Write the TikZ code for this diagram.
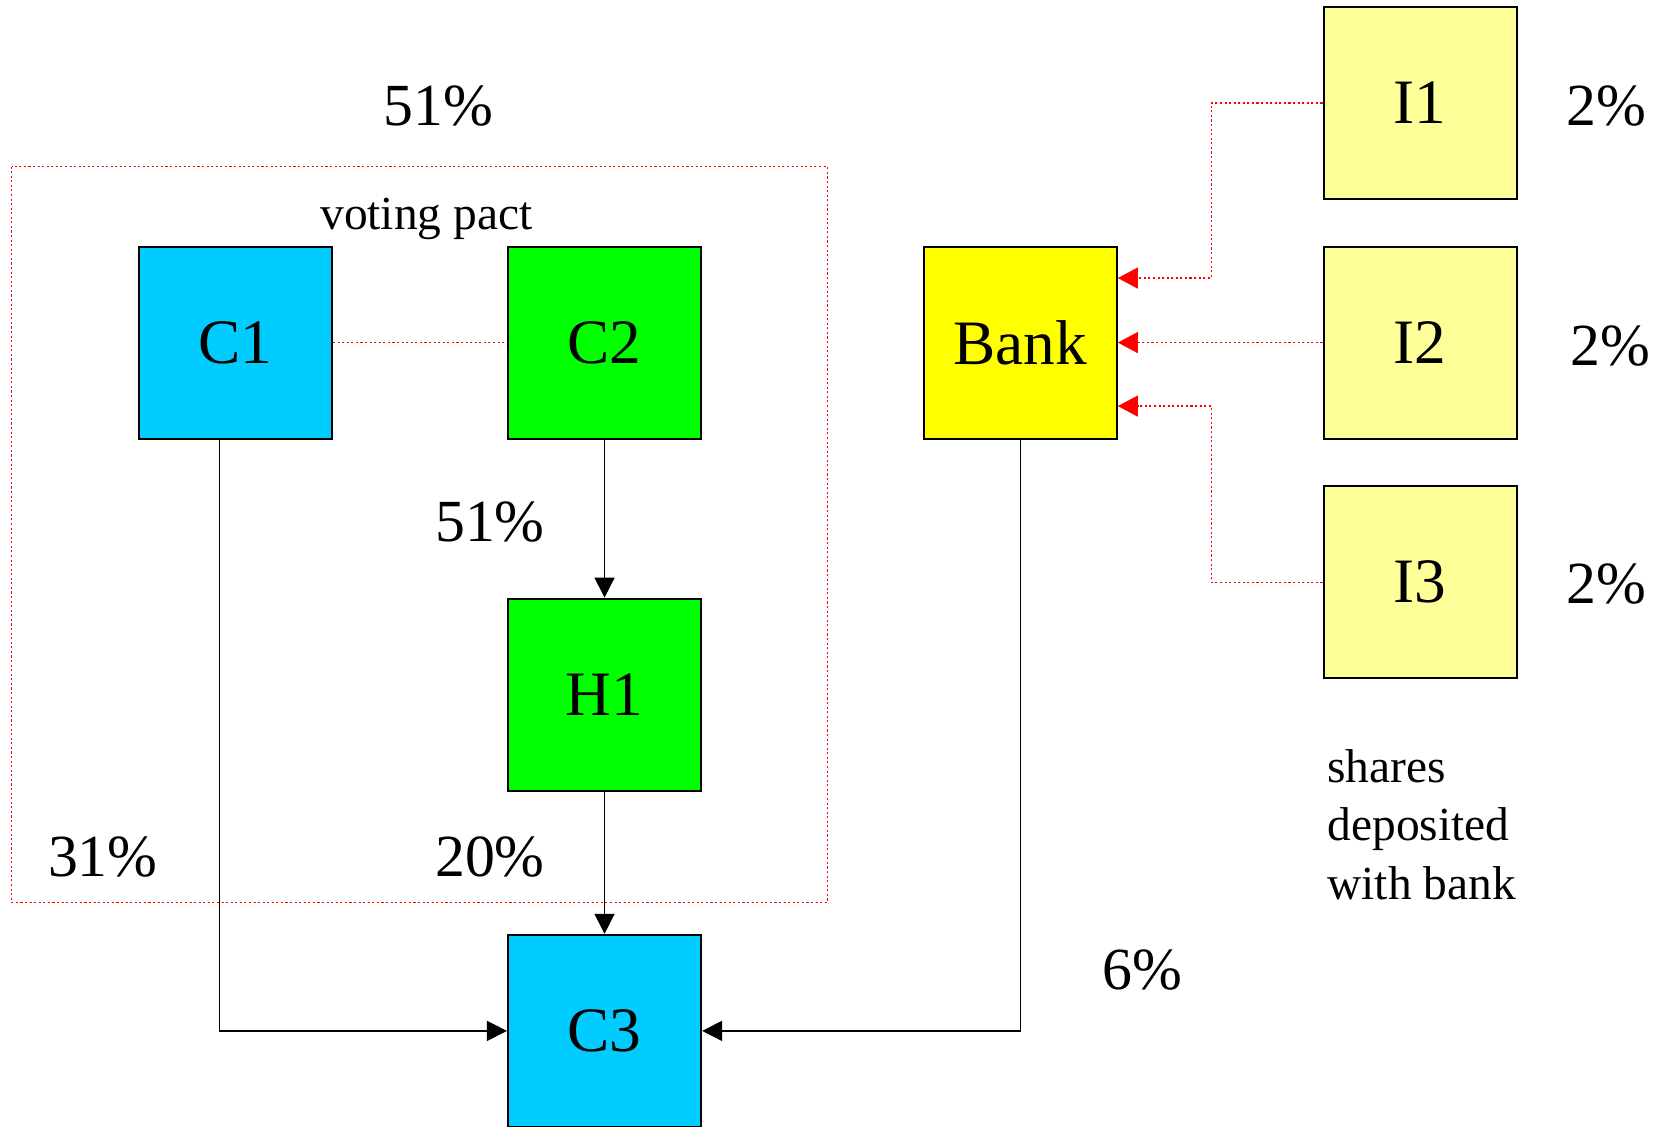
\documentclass[tikz,border=0pt]{standalone}
\usepackage{fontspec}
\setmainfont{Liberation Serif}
\usepackage{tikz}
\usepackage{xcolor}
\usetikzlibrary{arrows.meta, positioning}

\definecolor{firmblue}{HTML}{00CCFF}
\definecolor{firmgreen}{HTML}{00FF00}
\definecolor{bankyellow}{HTML}{FFFF00}
\definecolor{investyellow}{HTML}{FFFF99}

\begin{document}
\begin{tikzpicture}[x=0.010606cm, y=-0.010606cm,
    % Box styles
    firmbox/.style={rectangle, draw, line width=0.6pt, minimum width=1.93cm, minimum height=1.92cm,
                   inner sep=0pt, font=\fontsize{18}{20}\selectfont},
    bluebox/.style={firmbox, fill=firmblue},
    greenbox/.style={firmbox, fill=firmgreen},
    bankbox/.style={firmbox, fill=bankyellow},
    investbox/.style={firmbox, fill=investyellow},
    % Label styles
    pct/.style={font=\fontsize{17}{19}\selectfont, inner sep=0pt},
    note/.style={font=\fontsize{13.5}{16.6}\selectfont, inner sep=0pt},
    % Connector styles
    arrow/.style={-{Triangle[length=2mm, width=2mm]}, line width=0.4pt},
    pactline/.style={draw=red, line width=0.4pt, dash pattern=on 0.6pt off 0.7pt},
    redarrow/.style={pactline, -{Triangle[length=2mm, width=2.1mm]}, red}
]
\useasboundingbox (0,0) rectangle (1568,1062);

% Voting pact frame
\draw[pactline] (11,157) rectangle (780,851);
\node[note] at (402,206) (pact) {voting pact};

% Companies
\node[bluebox] at (222,323) (C1) {C1};
\node[greenbox] at (570,323) (C2) {C2};
\node[greenbox] at (570,655) (H1) {H1};
\node[bluebox] at (570,972) (C3) {C3};
\node[bankbox] at (962,323) (bank) {Bank};

% Investors
\node[investbox] at (1339,97) (I1) {I1};
\node[investbox] at (1339,323) (I2) {I2};
\node[investbox] at (1339,549) (I3) {I3};

% Percentages
\node[pct] at (413,100) (pct_pact) {51\%};
\node[pct] at (462,492) (pct_h1) {51\%};
\node[pct] at (97,808) (pct_c1) {31\%};
\node[pct] at (462,808) (pct_h1c3) {20\%};
\node[pct] at (1077,915) (pct_bank) {6\%};
\node[pct] at (1515,100) (pct_i1) {2\%};
\node[pct] at (1518,326) (pct_i2) {2\%};
\node[pct] at (1515,551) (pct_i3) {2\%};

\node[note, anchor=north west, align=left] at (1251,706) (deposit) {shares\\deposited\\with bank};

% Connections
% Pact between C1 and C2
\draw[pactline] (C1.east) -- (C2.west);

% Holdings
\draw[arrow] (C2.south) -- (H1.north);
\draw[arrow] (H1.south) -- (C3.north);
\draw[arrow] ([xshift=-0.16cm]C1.south) |- (C3.west);
\draw[arrow] (bank.south) |- (C3.east);

% Shares deposited with bank
\draw[redarrow] (I1.west) -- ++(-105,0) |- ([yshift=0.645cm]bank.east);
\draw[redarrow] (I2.west) -- (bank.east);
\draw[redarrow] (I3.west) -- ++(-105,0) |- ([yshift=-0.635cm]bank.east);

\end{tikzpicture}
\end{document}
